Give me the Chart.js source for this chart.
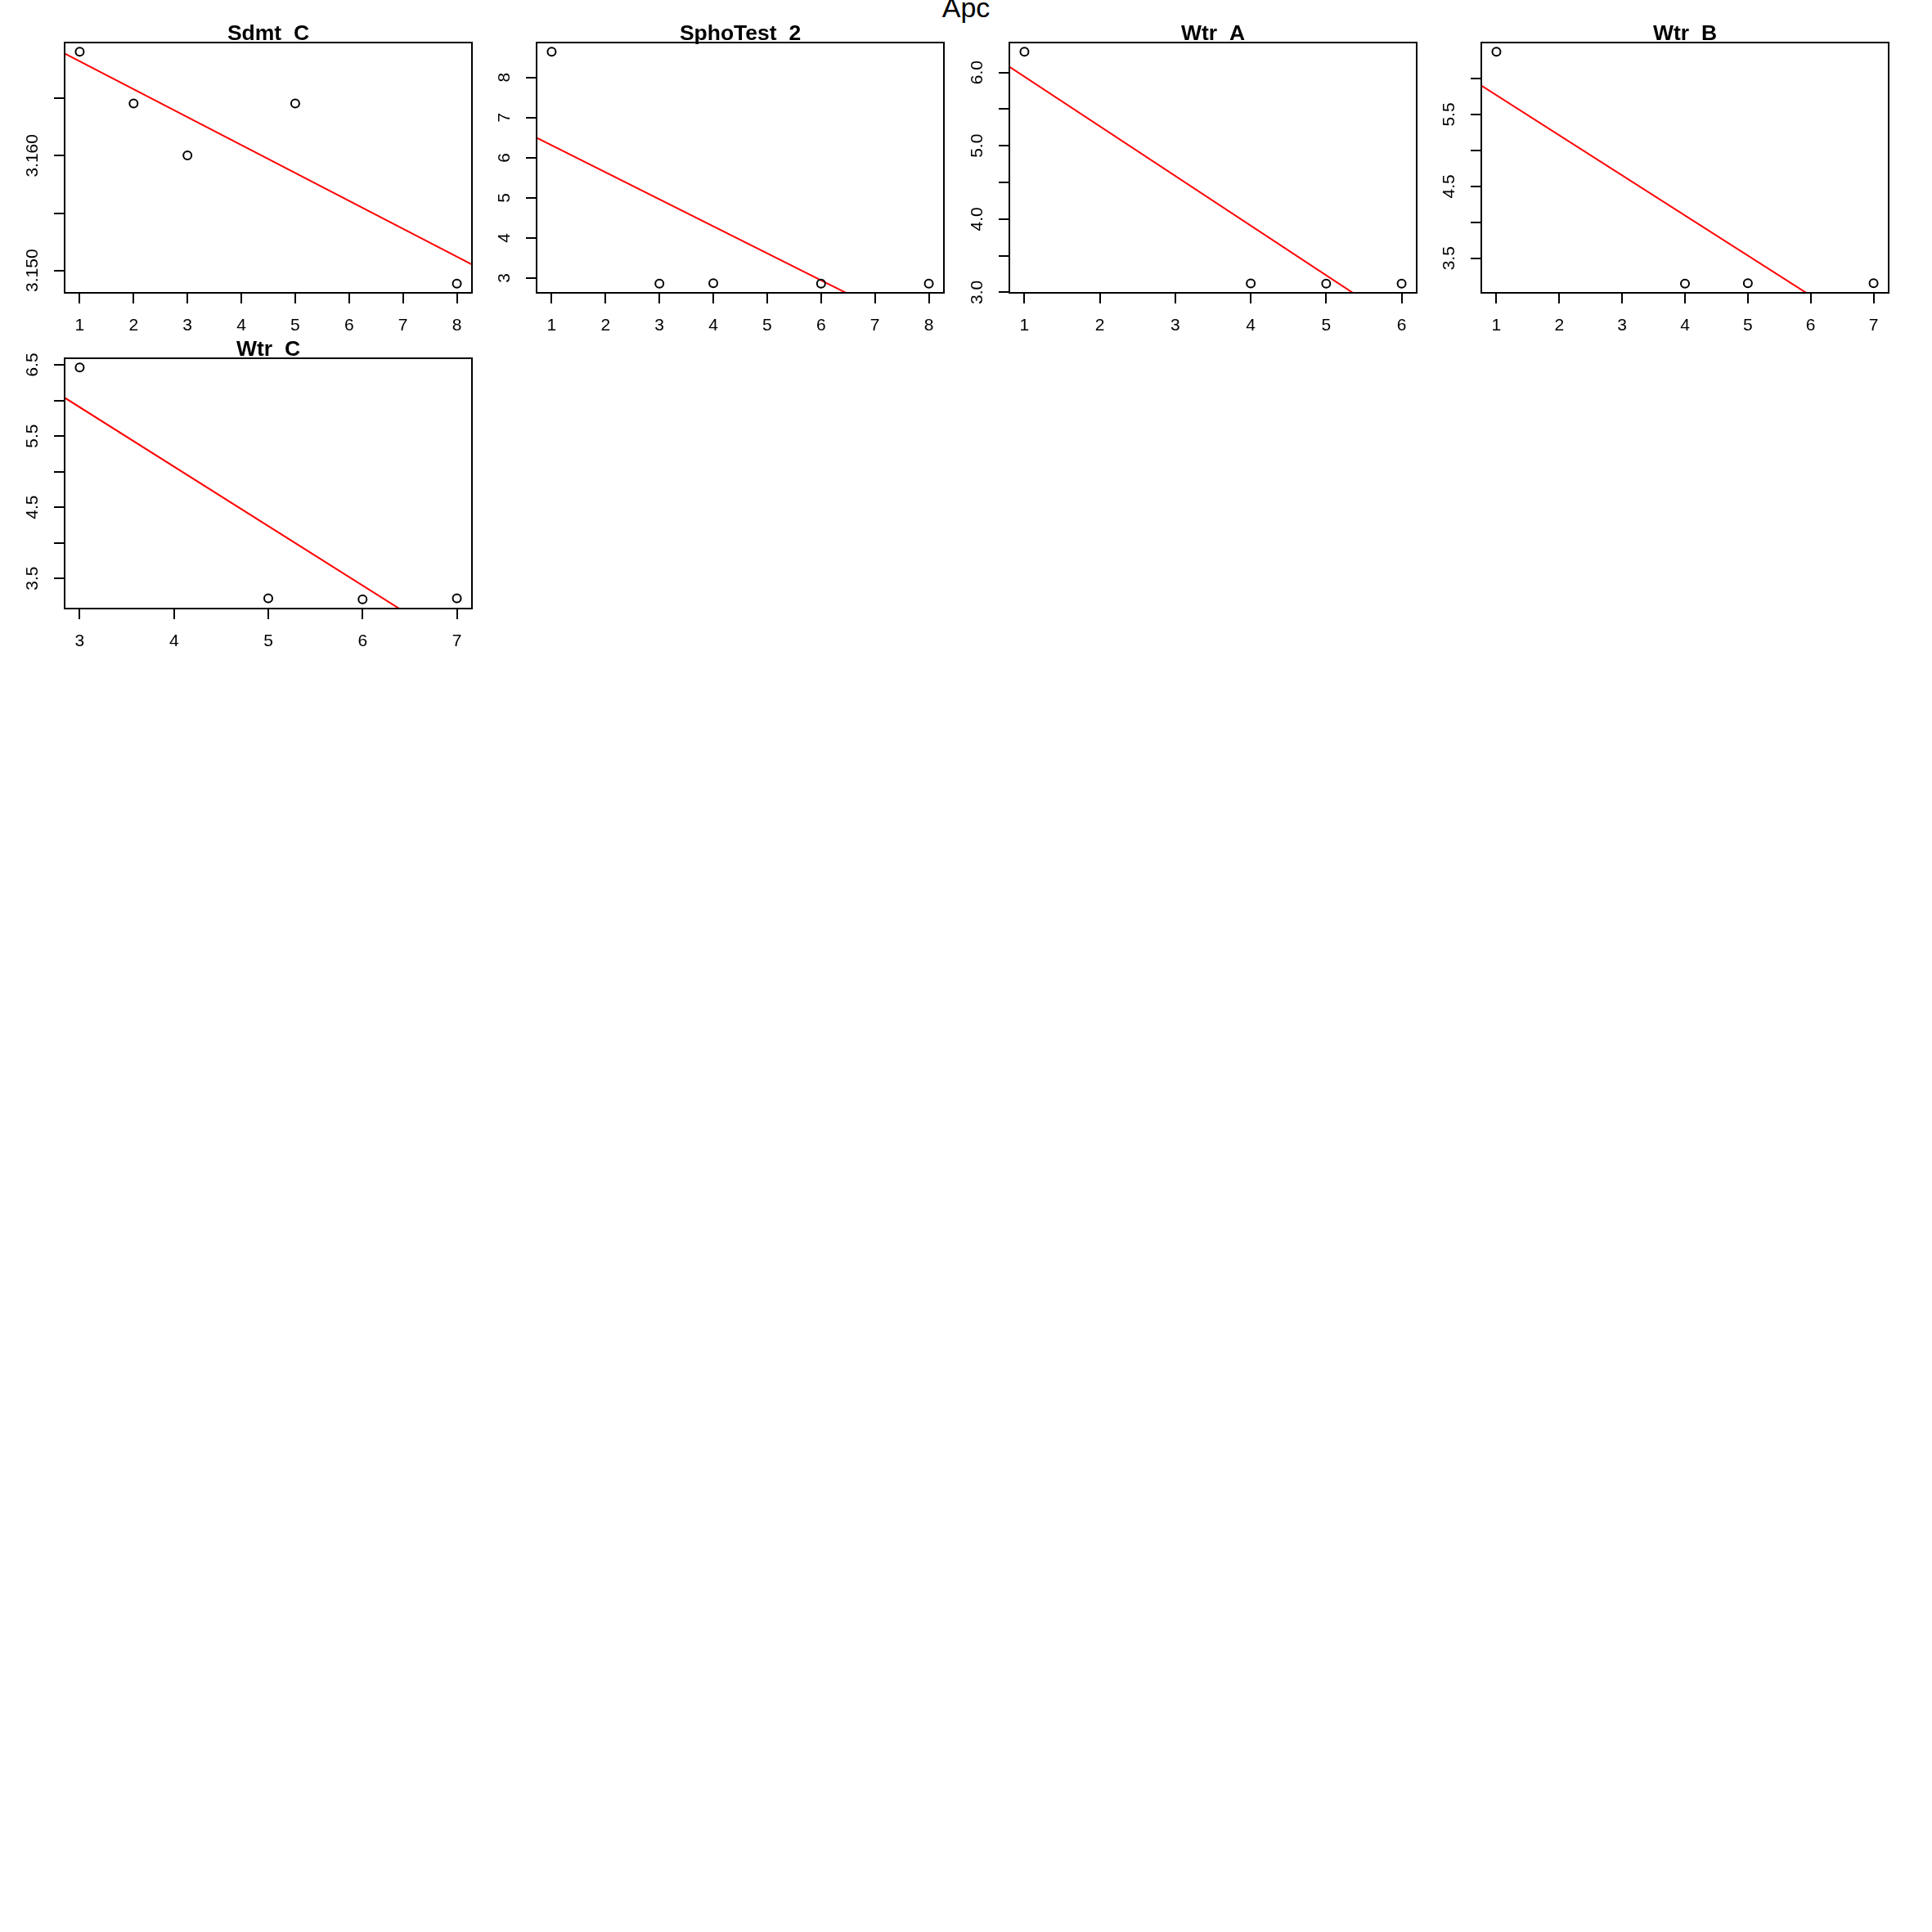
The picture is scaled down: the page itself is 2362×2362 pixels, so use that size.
<!DOCTYPE html>
<html><head><meta charset="utf-8">
<script src="https://cdn.jsdelivr.net/npm/chart.js@4/dist/chart.umd.min.js"></script>
<style>
html,body{margin:0;padding:0;background:#fff;}
body{width:2362px;height:2362px;position:relative;overflow:hidden;}
canvas{position:absolute;}
#main{position:absolute;left:0;width:2362px;top:-8px;text-align:center;font-family:'Liberation Sans',Arial,sans-serif;font-size:34px;line-height:34px;color:#000;}
</style></head><body>
<div id="main">Apc</div>
<script>
// ---- data ----
const mainTitle = 'Apc';
const panelNames = ['Sdmt_C', 'SphoTest_2', 'Wtr_A', 'Wtr_B', 'Wtr_C'];

const sdmtCX = [1, 2, 3, 5, 8];
const sdmtCY = [3.16905, 3.16455, 3.16003, 3.16455, 3.14886];
const sphoX = [1, 3, 4, 6, 8];
const sphoY = [8.64, 2.863, 2.87, 2.863, 2.863];
const wtrAX = [1, 4, 5, 6];
const wtrAY = [6.283, 3.123, 3.12, 3.12];
const wtrBX = [1, 4, 5, 7];
const wtrBY = [6.372, 3.148, 3.152, 3.152];
const wtrCX = [3, 5, 6, 7];
const wtrCY = [6.462, 3.22, 3.207, 3.22];

// fitted red lines: [intercept, slope]
const sdmtCFit = [3.17065, -0.002431];
const sphoFit = [6.98, -0.6727];
const wtrAFit = [6.622, -0.6778];
const wtrBFit = [6.3275, -0.558];
const wtrCFit = [8.409, -0.8347];

// tick values and labels
const sdmtCXTicks = [1, 2, 3, 4, 5, 6, 7, 8];
const sphoXTicks = [1, 2, 3, 4, 5, 6, 7, 8];
const wtrAXTicks = [1, 2, 3, 4, 5, 6];
const wtrBXTicks = [1, 2, 3, 4, 5, 6, 7];
const wtrCXTicks = [3, 4, 5, 6, 7];

const sdmtCYTicks = [3.150, 3.155, 3.160, 3.165];
const sdmtCYLabels = ['3.150', '', '3.160', ''];
const sphoYTicks = [3, 4, 5, 6, 7, 8];
const sphoYLabels = ['3', '4', '5', '6', '7', '8'];
const wtrAYTicks = [3.0, 3.5, 4.0, 4.5, 5.0, 5.5, 6.0];
const wtrAYLabels = ['3.0', '', '4.0', '', '5.0', '', '6.0'];
const wtrBYTicks = [3.5, 4.0, 4.5, 5.0, 5.5, 6.0];
const wtrBYLabels = ['3.5', '', '4.5', '', '5.5', ''];
const wtrCYTicks = [3.5, 4.0, 4.5, 5.0, 5.5, 6.0, 6.5];
const wtrCYLabels = ['3.5', '', '4.5', '', '5.5', '', '6.5'];

// ---- layout ----
const FONT = "'Liberation Sans', Arial, sans-serif";
Chart.defaults.font.family = FONT;
Chart.defaults.color = '#000';
const CW = 590, CH = 420;
const colLeft = [0, 577, 1155, 1732];
const rowTop = [0, 386];

const panels = [
  {name: panelNames[0], xs: sdmtCX, ys: sdmtCY, fit: sdmtCFit, xt: sdmtCXTicks, yt: sdmtCYTicks, yl: sdmtCYLabels, col: 0, row: 0},
  {name: panelNames[1], xs: sphoX, ys: sphoY, fit: sphoFit, xt: sphoXTicks, yt: sphoYTicks, yl: sphoYLabels, col: 1, row: 0},
  {name: panelNames[2], xs: wtrAX, ys: wtrAY, fit: wtrAFit, xt: wtrAXTicks, yt: wtrAYTicks, yl: wtrAYLabels, col: 2, row: 0},
  {name: panelNames[3], xs: wtrBX, ys: wtrBY, fit: wtrBFit, xt: wtrBXTicks, yt: wtrBYTicks, yl: wtrBYLabels, col: 3, row: 0},
  {name: panelNames[4], xs: wtrCX, ys: wtrCY, fit: wtrCFit, xt: wtrCXTicks, yt: wtrCYTicks, yl: wtrCYLabels, col: 0, row: 1},
];

function extRange(arr) {
  const lo = Math.min(...arr), hi = Math.max(...arr);
  const d = (hi - lo) * 0.04;
  return [lo - d, hi + d];
}

document.getElementById('main').textContent = mainTitle;

panels.forEach(p => {
  const cv = document.createElement('canvas');
  cv.width = CW; cv.height = CH;
  cv.style.left = colLeft[p.col] + 'px';
  cv.style.top = rowTop[p.row] + 'px';
  cv.style.width = CW + 'px'; cv.style.height = CH + 'px';
  document.body.appendChild(cv);

  const [xmin, xmax] = extRange(p.xs);
  const [ymin, ymax] = extRange(p.ys);
  const pts = p.xs.map((x, i) => ({x: x, y: p.ys[i]}));
  const line = [xmin, xmax].map(x => ({x: x, y: p.fit[0] + p.fit[1] * x}));

  const decor = {
    id: 'decor',
    afterDraw(chart) {
      const ctx = chart.ctx, a = chart.chartArea, ys = chart.scales.y;
      ctx.save();
      ctx.strokeStyle = '#000'; ctx.lineWidth = 2;
      ctx.strokeRect(a.left, a.top, a.right - a.left, a.bottom - a.top);
      ctx.fillStyle = '#000';
      ctx.font = '21px ' + FONT;
      ctx.textAlign = 'center'; ctx.textBaseline = 'middle';
      p.yt.forEach((v, i) => {
        const lab = p.yl[i];
        if (!lab) return;
        const py = ys.getPixelForValue(v);
        ctx.save();
        ctx.translate(a.left - 39, py);
        ctx.rotate(-Math.PI / 2);
        ctx.fillText(lab, 0, 0);
        ctx.restore();
      });
      ctx.font = 'bold 26.5px ' + FONT;
      ctx.textBaseline = 'alphabetic';
      ctx.fillText(p.name, (a.left + a.right) / 2, a.top - 3.5);
      ctx.restore();
    }
  };

  new Chart(cv, {
    type: 'scatter',
    data: {
      datasets: [
        {data: pts, showLine: false, pointStyle: 'circle', pointRadius: 5, pointHoverRadius: 5,
         pointBorderWidth: 2, borderWidth: 2, pointBorderColor: '#000', borderColor: '#000',
         pointBackgroundColor: 'rgba(0,0,0,0)', backgroundColor: 'rgba(0,0,0,0)'},
        {data: line, showLine: true, pointRadius: 0, borderColor: '#ff0000', borderWidth: 2, fill: false}
      ]
    },
    options: {
      responsive: false, animation: false, events: [],
      layout: {padding: {top: 52, right: 13, left: 0, bottom: 0}},
      plugins: {legend: {display: false}, tooltip: {enabled: false}, title: {display: false}},
      scales: {
        x: {
          type: 'linear', min: xmin, max: xmax,
          afterBuildTicks: s => { s.ticks = p.xt.map(v => ({value: v})); },
          afterFit: s => { s.height = 62; },
          grid: {display: true, drawOnChartArea: false, drawTicks: true, tickLength: 13, color: '#000', lineWidth: 2},
          border: {display: false},
          ticks: {font: {size: 21, family: FONT}, color: '#000', padding: 15, maxRotation: 0, autoSkip: false,
                  callback: v => String(v)}
        },
        y: {
          type: 'linear', min: ymin, max: ymax,
          afterBuildTicks: s => { s.ticks = p.yt.map(v => ({value: v})); },
          afterFit: s => { s.width = 79; },
          grid: {display: true, drawOnChartArea: false, drawTicks: true, tickLength: 13, color: '#000', lineWidth: 2},
          border: {display: false},
          ticks: {display: false}
        }
      }
    },
    plugins: [decor]
  });
});
</script>
</body></html>
